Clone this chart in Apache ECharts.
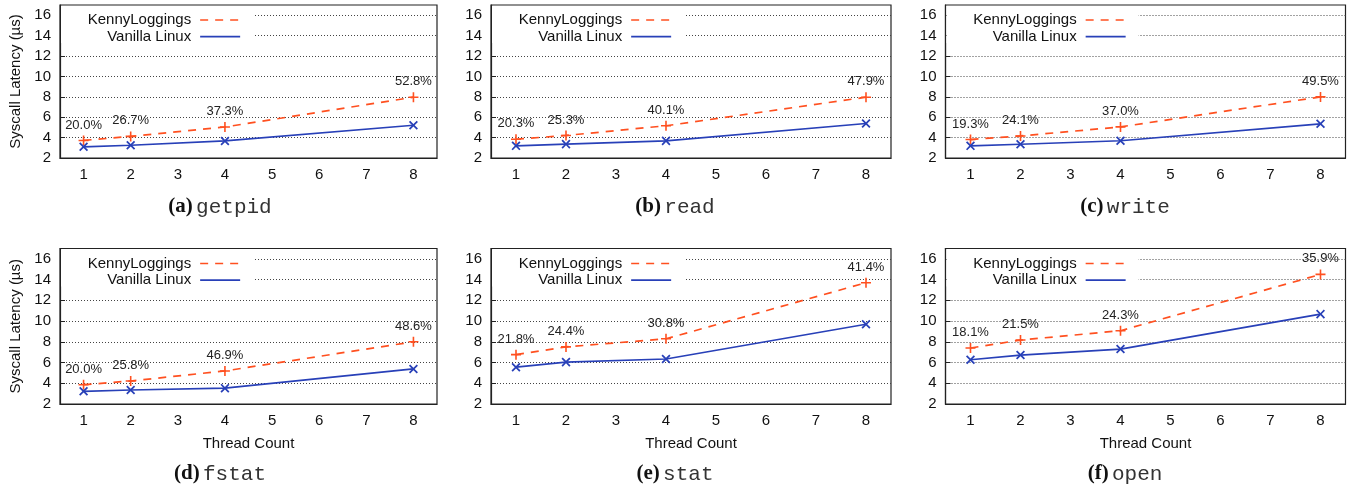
<!DOCTYPE html>
<html>
<head>
<meta charset="utf-8">
<script src="https://cdn.jsdelivr.net/npm/echarts@6/dist/echarts.min.js"></script>
<style>
html,body{margin:0;padding:0;background:#fff;}
#chart{width:1351px;height:491px;}
</style>
</head>
<body>
<div id="chart"></div>
<script>
// ---- data ----
const categories = ['1', '2', '3', '4', '5', '6', '7', '8'];
const threads = [1, 2, 4, 8];
const panelTags = ['(a)', '(b)', '(c)', '(d)', '(e)', '(f)'];
const panelNames = ['getpid', 'read', 'write', 'fstat', 'stat', 'open'];
const seriesNames = ['KennyLoggings', 'Vanilla Linux'];

const kennyGetpid = [3.72, 4.12, 5.04, 7.96];
const vanillaGetpid = [3.10, 3.25, 3.67, 5.21];
const pctGetpid = ['20.0%', '26.7%', '37.3%', '52.8%'];

const kennyRead = [3.84, 4.21, 5.16, 7.96];
const vanillaRead = [3.19, 3.36, 3.68, 5.38];
const pctRead = ['20.3%', '25.3%', '40.1%', '47.9%'];

const kennyWrite = [3.81, 4.16, 5.05, 7.99];
const vanillaWrite = [3.19, 3.35, 3.69, 5.35];
const pctWrite = ['19.3%', '24.1%', '37.0%', '49.5%'];

const kennyFstat = [3.86, 4.22, 5.19, 8.00];
const vanillaFstat = [3.22, 3.35, 3.53, 5.38];
const pctFstat = ['20.0%', '25.8%', '46.9%', '48.6%'];

const kennyStat = [6.76, 7.51, 8.29, 13.70];
const vanillaStat = [5.55, 6.04, 6.34, 9.69];
const pctStat = ['21.8%', '24.4%', '30.8%', '41.4%'];

const kennyOpen = [7.40, 8.17, 9.07, 14.50];
const vanillaOpen = [6.27, 6.72, 7.30, 10.67];
const pctOpen = ['18.1%', '21.5%', '24.3%', '35.9%'];

const yMin = 2, yMax = 17, yInterval = 2;
const xAxisTitle = 'Thread Count';
const yAxisTitle = 'Syscall Latency (µs)';

const kennyAll = [kennyGetpid, kennyRead, kennyWrite, kennyFstat, kennyStat, kennyOpen];
const vanillaAll = [vanillaGetpid, vanillaRead, vanillaWrite, vanillaFstat, vanillaStat, vanillaOpen];
const pctAll = [pctGetpid, pctRead, pctWrite, pctFstat, pctStat, pctOpen];

// ---- layout ----
const W = 1351;
const cols = [
  {left: 60, width: 377, center: 220},
  {left: 491, width: 400, center: 675},
  {left: 945.5, width: 400, center: 1125}
];
const rows = [
  {top: 5, height: 153, caption: 207},
  {top: 248.5, height: 155.5, caption: 474}
];
const ORANGE = '#ff5020';
const BLUE = '#2840b8';
const PLUS = 'path://M42,0H58V42H100V58H58V100H42V58H0V42H42Z';
const FONT = 'Liberation Sans, Arial, Helvetica, sans-serif';

function toCat(vals) {
  const arr = categories.map(() => null);
  threads.forEach((t, i) => { arr[categories.indexOf(String(t))] = vals[i]; });
  return arr;
}

const grid = [], xAxis = [], yAxis = [], series = [], legend = [], graphic = [];

for (let p = 0; p < 6; p++) {
  const c = cols[p % 3], r = rows[Math.floor(p / 3)];
  grid.push({left: c.left, top: r.top, width: c.width, height: r.height,
    show: true, borderColor: '#222', borderWidth: 1.2, backgroundColor: 'transparent'});
  xAxis.push({
    type: 'category', gridIndex: p, data: categories, boundaryGap: true,
    axisLine: {lineStyle: {color: '#222', width: 1.2}},
    axisTick: {inside: true, alignWithLabel: true, length: 5, lineStyle: {color: '#222'}},
    axisLabel: {color: '#111', fontSize: 15, fontFamily: FONT, margin: 9},
    splitLine: {show: false},
    name: r === rows[1] ? xAxisTitle : '', nameLocation: 'middle', nameGap: 32,
    nameTextStyle: {color: '#111', fontSize: 15, fontFamily: FONT}
  });
  yAxis.push({
    type: 'value', gridIndex: p, min: yMin, max: yMax, interval: yInterval,
    axisLine: {show: true, lineStyle: {color: '#222', width: 1.2}},
    axisTick: {show: true, inside: true, length: 5, lineStyle: {color: '#222'}},
    axisLabel: {color: '#111', fontSize: 15, fontFamily: FONT, margin: 9, showMaxLabel: false},
    splitLine: {show: true, showMaxLine: false, showMinLine: false,
      lineStyle: {color: '#444', width: 1, type: [1, 2]}},
    name: p % 3 === 0 ? yAxisTitle : '', nameLocation: 'middle', nameGap: 37,
    nameTextStyle: {color: '#111', fontSize: 15, fontFamily: FONT}
  });
  const pcts = pctAll[p];
  series.push({
    name: seriesNames[0], type: 'line', xAxisIndex: p, yAxisIndex: p,
    data: toCat(kennyAll[p]), connectNulls: true,
    symbol: PLUS, symbolSize: 10, z: 3,
    lineStyle: {color: ORANGE, width: 1.7, type: [8, 7]},
    itemStyle: {color: ORANGE},
    label: {show: true, position: 'top', distance: 4, color: '#222', fontSize: 13, fontFamily: FONT,
      formatter: (d) => pcts[threads.indexOf(Number(d.name))]},
    animation: false
  });
  series.push({
    name: seriesNames[1], type: 'line', xAxisIndex: p, yAxisIndex: p,
    data: toCat(vanillaAll[p]), connectNulls: true,
    symbol: PLUS, symbolSize: 11, symbolRotate: 45, z: 3,
    lineStyle: {color: BLUE, width: 1.7},
    itemStyle: {color: BLUE},
    animation: false
  });
  // white legend box
  graphic.push({type: 'rect', z: 3, shape: {x: c.left + 1, y: r.top + 1, width: 192, height: 37},
    style: {fill: '#fff'}});
  // legends
  const centers = [r.top + 15, r.top + 30.5];
  for (let s = 0; s < 2; s++) {
    legend.push({
      data: [seriesNames[s]], orient: 'horizontal', align: 'right',
      right: W - (c.left + 181), top: centers[s] - 8, padding: 0, z: 6,
      itemWidth: 40, itemHeight: 16, selectedMode: false,
      itemStyle: {opacity: 0},
      lineStyle: {width: 1.7},
      textStyle: {color: '#111', fontSize: 15, fontFamily: FONT, lineHeight: 16, padding: [0, 4, 0, 0]}
    });
  }
  // caption
  graphic.push({type: 'text', z: 6, x: c.center, y: r.caption,
    style: {text: '{b|' + panelTags[p] + '} {m|' + panelNames[p] + '}', align: 'center', verticalAlign: 'middle',
      rich: {
        b: {fontFamily: 'Liberation Serif, Times New Roman, serif', fontWeight: 'bold', fontSize: 21, fill: '#111'},
        m: {fontFamily: 'Liberation Mono, Courier New, monospace', fontSize: 21, fill: '#333'}
      }}});
}

const chart = echarts.init(document.getElementById('chart'), null, {renderer: 'canvas'});
chart.setOption({
  backgroundColor: '#fff',
  animation: false,
  grid, xAxis, yAxis, series, legend, graphic
});
</script>
</body>
</html>
